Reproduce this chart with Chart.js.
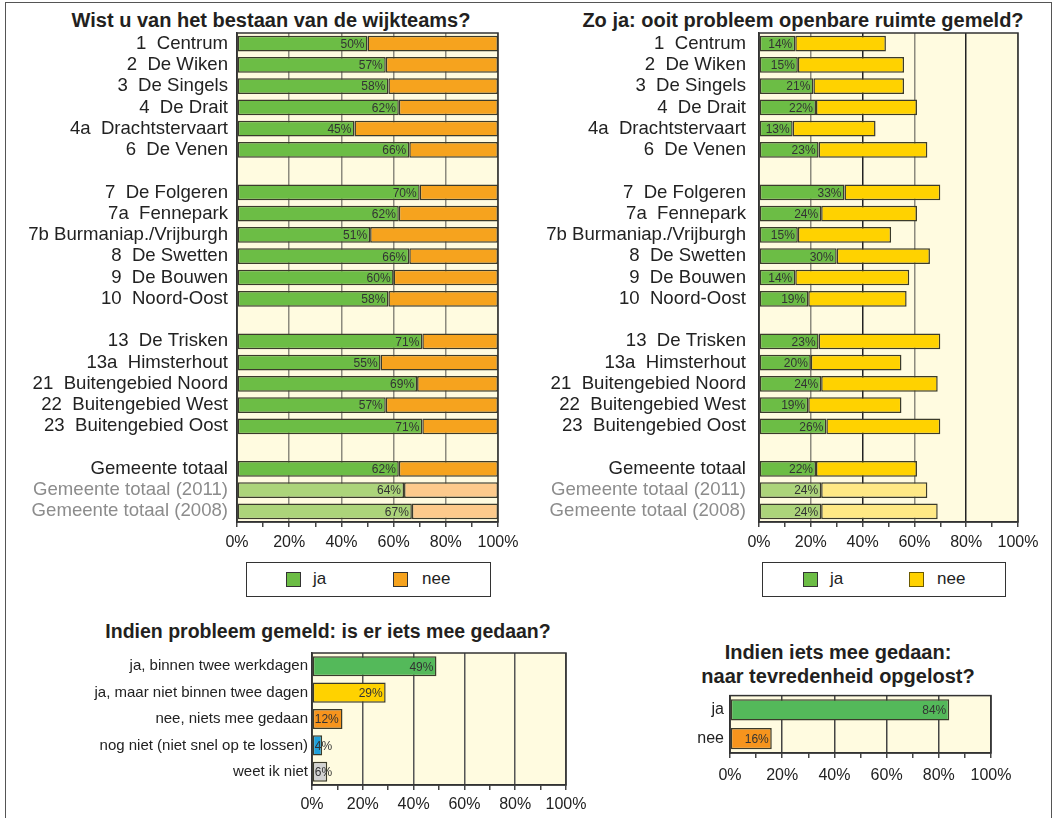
<!DOCTYPE html>
<html>
<head>
<meta charset="utf-8">
<script src="https://cdn.jsdelivr.net/npm/chart.js@4/dist/chart.umd.min.js"></script>
<style>
body { margin:0; background:#fff; font-family:"Liberation Sans", Arial, sans-serif; }
#page { position:relative; width:1056px; height:818px; overflow:hidden; }
#frame { position:absolute; left:5px; top:2px; width:1045px; height:830px; border:1.5px solid #555; }
canvas { position:absolute; }
.title { position:absolute; width:520px; font-weight:bold; font-size:20px; line-height:24px; color:#231f20; text-align:center; white-space:nowrap; }
.legend { position:absolute; height:33px; border:1.5px solid #333; background:#fff; font-size:17px; color:#222; }
.legend .sw { position:absolute; top:9px; width:13px; height:13px; border:1.5px solid #333; }
.legend .lt { position:absolute; top:6px; }
</style>
</head>
<body>
<div id="page">
  <div id="frame"></div>

  <div class="title" style="left:11px; top:8px;">Wist u van het bestaan van de wijkteams?</div>
  <div class="title" style="left:543px; top:8px;">Zo ja: ooit probleem openbare ruimte gemeld?</div>
  <div class="title" style="left:68px; top:619px; font-size:19.5px;">Indien probleem gemeld: is er iets mee gedaan?</div>
  <div class="title" style="left:578px; top:640px; line-height:24px;">Indien iets mee gedaan:<br>naar tevredenheid opgelost?</div>

  <canvas id="bekend" width="528" height="560" style="left:0; top:0;"></canvas>
  <canvas id="gemeld" width="526" height="560" style="left:530px; top:0;"></canvas>
  <canvas id="actie" width="600" height="178" style="left:0; top:640px;"></canvas>
  <canvas id="tevreden" width="376" height="120" style="left:680px; top:680px;"></canvas>

  <div class="legend" style="left:246px; top:562px; width:243px;">
    <span class="sw" style="left:39px; background:#6cbd45;"></span><span class="lt" style="left:66px;">ja</span>
    <span class="sw" style="left:146px; background:#f6a31e;"></span><span class="lt" style="left:175px;">nee</span>
  </div>
  <div class="legend" style="left:762px; top:562px; width:242px;">
    <span class="sw" style="left:40px; background:#6cbd45;"></span><span class="lt" style="left:67px;">ja</span>
    <span class="sw" style="left:146px; background:#ffd200; border-color:#6b5a00;"></span><span class="lt" style="left:174px;">nee</span>
  </div>
</div>

<script>
// categories (empty strings are the spacer rows between the groups)
const wijken = ['1  Centrum', '2  De Wiken', '3  De Singels', '4  De Drait', '4a  Drachtstervaart', '6  De Venen', '',
    '7  De Folgeren', '7a  Fennepark', '7b Burmaniap./Vrijburgh', '8  De Swetten', '9  De Bouwen', '10  Noord-Oost', '',
    '13  De Trisken', '13a  Himsterhout', '21  Buitengebied Noord', '22  Buitengebied West', '23  Buitengebied Oost', '',
    'Gemeente totaal', 'Gemeente totaal (2011)', 'Gemeente totaal (2008)'];

// Wist u van het bestaan van de wijkteams?
const bekendJa  = [50, 57, 58, 62, 45, 66, null, 70, 62, 51, 66, 60, 58, null, 71, 55, 69, 57, 71, null, 62, 64, 67];
const bekendNee = [50, 43, 42, 38, 55, 34, null, 30, 38, 49, 34, 40, 42, null, 29, 45, 31, 43, 29, null, 38, 36, 33];

// Zo ja: ooit probleem openbare ruimte gemeld?
const gemeldJa  = [14, 15, 21, 22, 13, 23, null, 33, 24, 15, 30, 14, 19, null, 23, 20, 24, 19, 26, null, 22, 24, 24];
const gemeldNee = [35, 41, 35, 39, 32, 42, null, 37, 37, 36, 36, 44, 38, null, 47, 35, 45, 36, 44, null, 39, 41, 45];

// Indien probleem gemeld: is er iets mee gedaan?
const actieLabels = ['ja, binnen twee werkdagen', 'ja, maar niet binnen twee dagen', 'nee, niets mee gedaan',
    'nog niet (niet snel op te lossen)', 'weet ik niet'];
const actieWaarden = [49, 29, 12, 4, 6];

// Indien iets mee gedaan: naar tevredenheid opgelost?
const tevredenLabels = ['ja', 'nee'];
const tevredenWaarden = [84, 16];

// x axis tick labels (percent)
const pctTicks = [0, 20, 40, 60, 80, 100];

const FONT = '"Liberation Sans", Arial, sans-serif';
const BORDER = '#3b3b2b';
const totaalIdx = [21, 22]; // older surveys, drawn lighter

Chart.defaults.font.family = FONT;
Chart.defaults.color = '#222';

// cream plot background + dark frame round the plot
const plotFrame = {
    id: 'plotFrame',
    beforeDraw(chart) {
        const a = chart.chartArea, ctx = chart.ctx;
        ctx.save();
        ctx.fillStyle = '#fffbe0';
        ctx.fillRect(a.left, a.top, a.right - a.left, a.bottom - a.top);
        ctx.restore();
    },
    afterDraw(chart) {
        const a = chart.chartArea, ctx = chart.ctx;
        ctx.save();
        ctx.strokeStyle = '#333';
        ctx.lineWidth = 1.5;
        ctx.strokeRect(a.left, a.top, a.right - a.left, a.bottom - a.top);
        ctx.restore();
    }
};

// percentage text inside the first dataset's bars
const valueLabels = {
    id: 'valueLabels',
    afterDatasetsDraw(chart, args, opts) {
        const ctx = chart.ctx;
        const meta = chart.getDatasetMeta(0);
        const data = chart.data.datasets[0].data;
        ctx.save();
        ctx.font = '12px ' + FONT;
        ctx.fillStyle = '#333';
        ctx.textBaseline = 'middle';
        meta.data.forEach((bar, i) => {
            const v = data[i];
            if (v == null) return;
            if (opts.smallLeft && v < 15) {
                ctx.textAlign = 'left';
                ctx.fillText(v + '%', bar.base + 2, bar.y + 1);
            } else {
                ctx.textAlign = 'right';
                ctx.fillText(v + '%', bar.x - 3, bar.y + 1);
            }
        });
        ctx.restore();
    }
};

function xScale(height, tickFont, pad, gridColor) {
    return {
        min: 0, max: 100, stacked: true,
        ticks: {
            stepSize: 10, autoSkip: false, maxRotation: 0, padding: pad,
            font: { size: tickFont }, color: '#222',
            callback: v => pctTicks.includes(v) ? v + '%' : ''
        },
        grid: {
            color: c => (c.tick && pctTicks.includes(c.tick.value)) ? gridColor(c.tick.value) : 'rgba(0,0,0,0)',
            lineWidth: 1.5, tickColor: '#444', tickLength: 5
        },
        border: { color: '#333', width: 1.5 },
        afterFit: s => { s.height = height; }
    };
}

function yScale(width, labelFont, pad, colorFn) {
    return {
        stacked: true,
        ticks: { autoSkip: false, padding: pad, font: { size: labelFont }, color: colorFn || '#222' },
        grid: { display: false, drawTicks: false },
        border: { color: '#333', width: 1.5 },
        afterFit: s => { s.width = width; }
    };
}

function baseOptions(padding, x, y, smallLeft) {
    return {
        responsive: false,
        animation: false,
        indexAxis: 'y',
        layout: { padding: padding },
        scales: { x: x, y: y },
        plugins: {
            legend: { display: false },
            tooltip: { enabled: false },
            valueLabels: { smallLeft: !!smallLeft }
        }
    };
}

const greyLabel = c => totaalIdx.includes(c.index) ? '#8c8c8c' : '#222';
const shade = (base, light) => wijken.map((w, i) => totaalIdx.includes(i) ? light : base);

new Chart(document.getElementById('bekend'), {
    type: 'bar',
    data: {
        labels: wijken,
        datasets: [
            { label: 'ja', data: bekendJa, backgroundColor: shade('#6cbd45', '#acd47a') },
            { label: 'nee', data: bekendNee, backgroundColor: shade('#f6a31e', '#fdca8c') }
        ].map(d => Object.assign(d, { borderColor: BORDER, borderWidth: 1.5, borderSkipped: false, barPercentage: 0.74, categoryPercentage: 1 }))
    },
    options: baseOptions({ top: 33, right: 30 },
        xScale(38, 16, 6, () => '#8c8a7e'),
        yScale(237, 18.6, 9, greyLabel)),
    plugins: [plotFrame, valueLabels]
});

new Chart(document.getElementById('gemeld'), {
    type: 'bar',
    data: {
        labels: wijken,
        datasets: [
            { label: 'ja', data: gemeldJa, backgroundColor: shade('#6cbd45', '#acd47a') },
            { label: 'nee', data: gemeldNee, backgroundColor: shade('#ffd200', '#ffe985') }
        ].map(d => Object.assign(d, { borderColor: BORDER, borderWidth: 1.5, borderSkipped: false, barPercentage: 0.74, categoryPercentage: 1 }))
    },
    options: baseOptions({ top: 33, right: 38 },
        xScale(38, 16, 6, v => (v === 40 || v === 80) ? '#222' : '#8c8a7e'),
        yScale(229, 18.6, 13, greyLabel)),
    plugins: [plotFrame, valueLabels]
});

new Chart(document.getElementById('actie'), {
    type: 'bar',
    data: {
        labels: actieLabels,
        datasets: [{
            data: actieWaarden,
            backgroundColor: ['#54b95a', '#ffd200', '#f7941d', '#1ea0dc', '#d2d2d2'],
            borderColor: BORDER, borderWidth: 1.5, borderSkipped: false,
            barPercentage: 0.76, categoryPercentage: 1
        }]
    },
    options: baseOptions({ top: 13, right: 34 },
        xScale(33, 16, 5, () => '#555'),
        yScale(312, 15, 4), true),
    plugins: [plotFrame, valueLabels]
});

new Chart(document.getElementById('tevreden'), {
    type: 'bar',
    data: {
        labels: tevredenLabels,
        datasets: [{
            data: tevredenWaarden,
            backgroundColor: ['#54b95a', '#f7941d'],
            borderColor: BORDER, borderWidth: 1.5, borderSkipped: false,
            barPercentage: 0.74, categoryPercentage: 1
        }]
    },
    options: baseOptions({ top: 13, right: 65 },
        xScale(47, 16, 8, () => '#444'),
        yScale(50, 16, 6)),
    plugins: [plotFrame, valueLabels]
});
</script>
</body>
</html>
